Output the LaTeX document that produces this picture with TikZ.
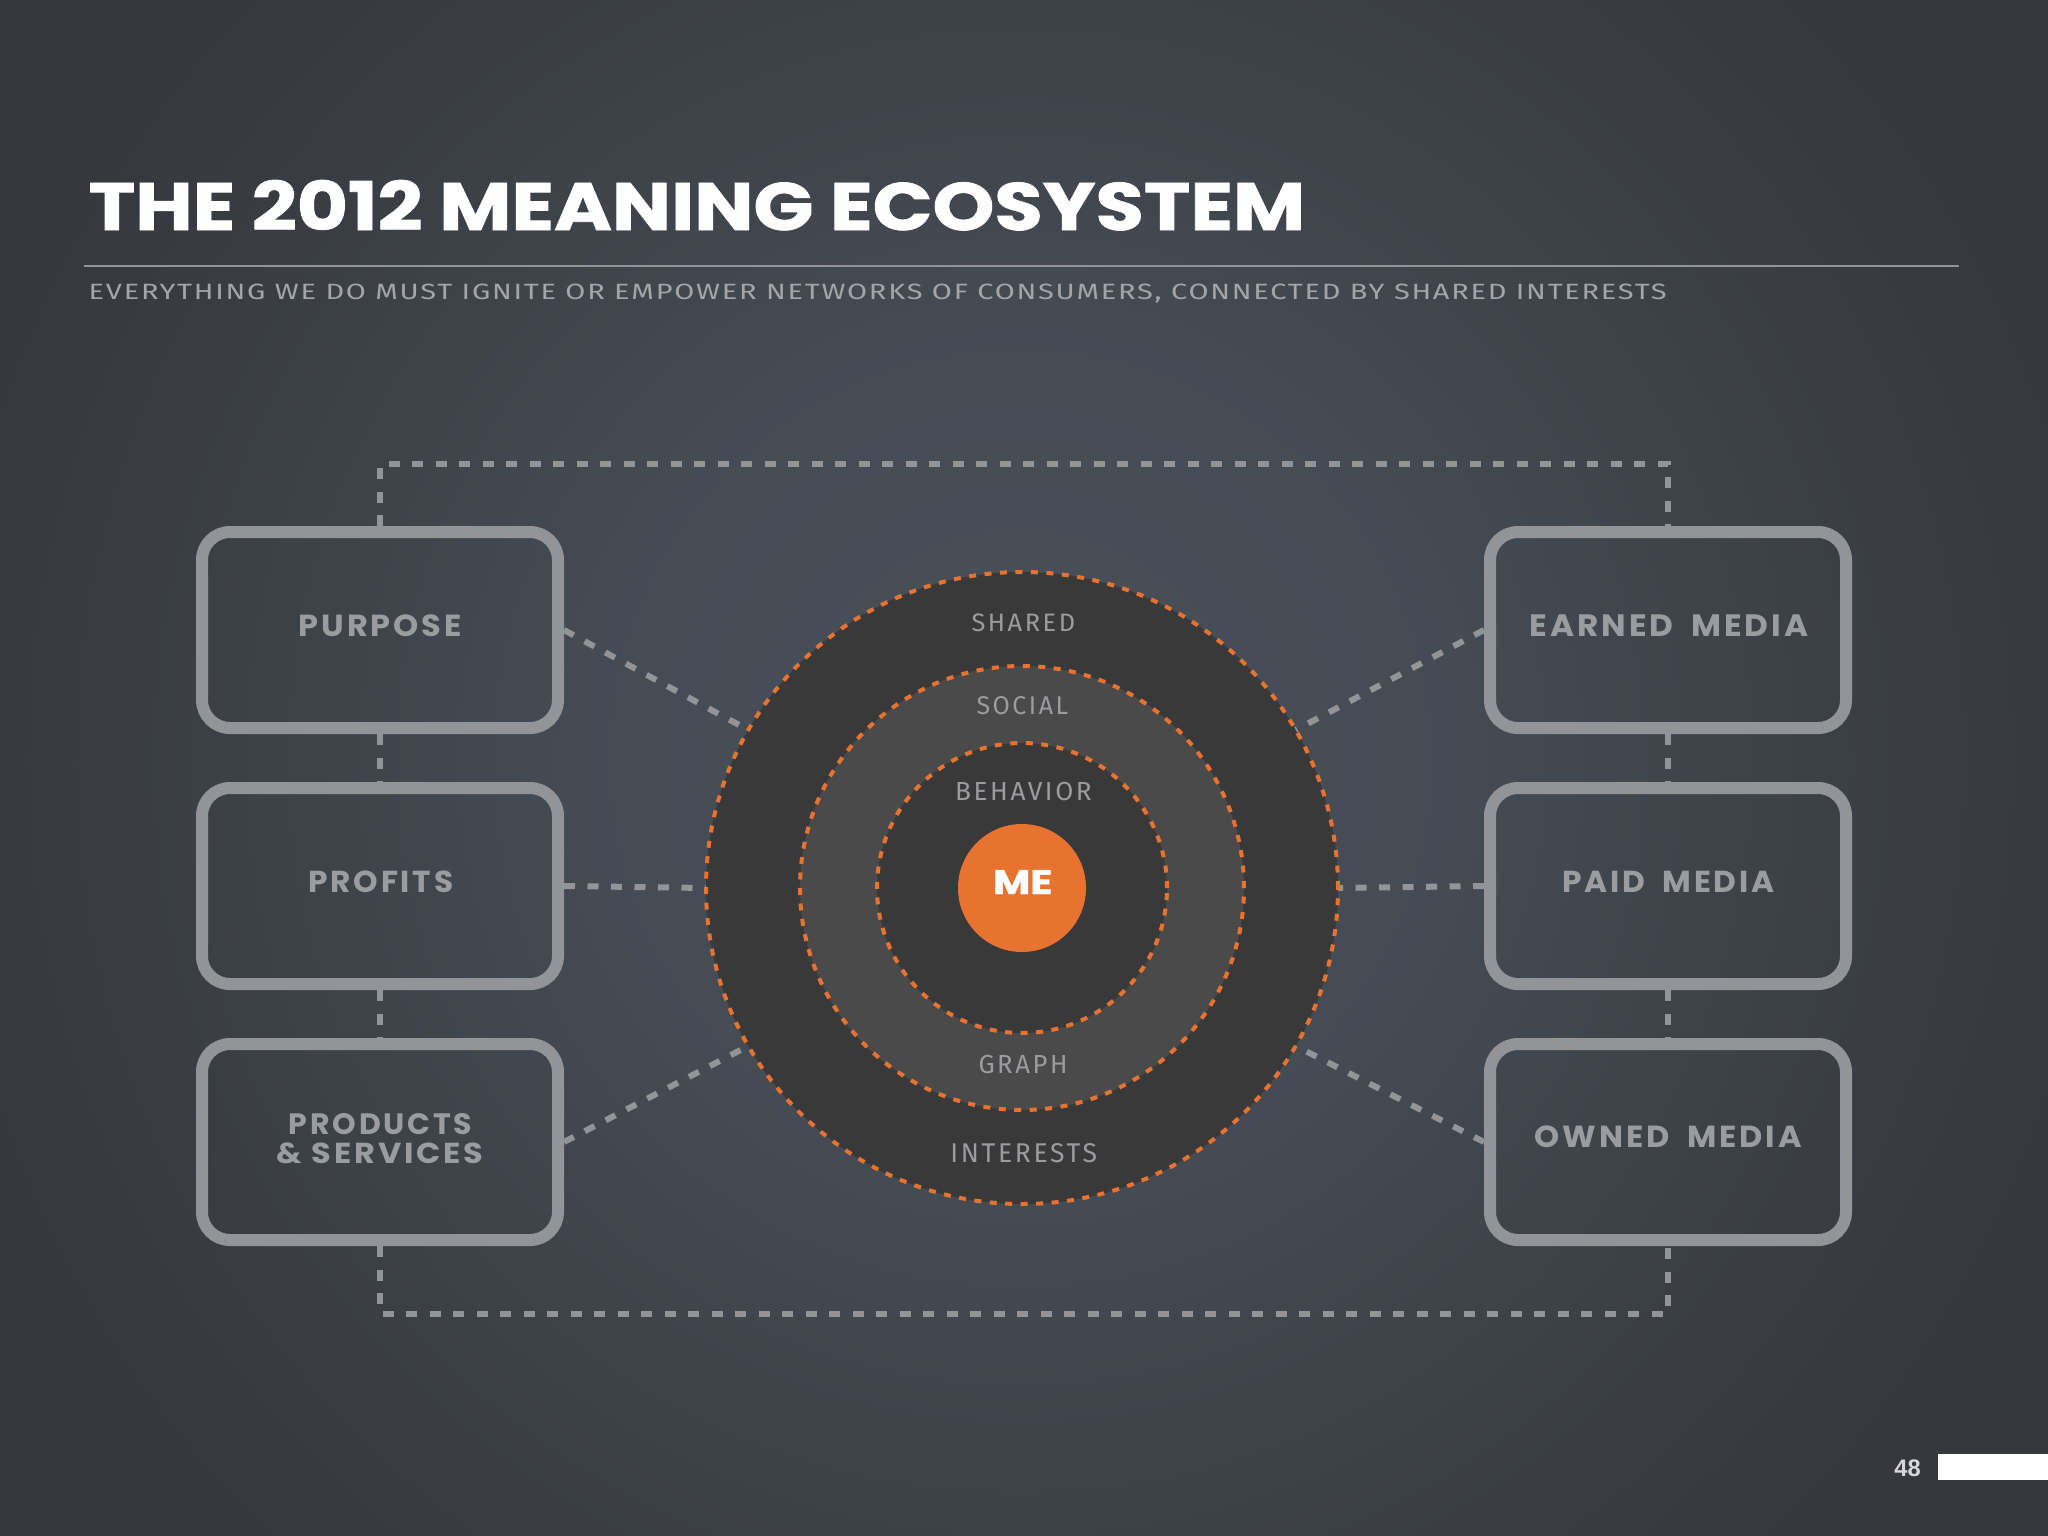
\documentclass[tikz,border=0pt]{standalone}
\usepackage{fontspec}
\usepackage{graphicx}
\usetikzlibrary{calc}
\newfontfamily\titlefont{Poppins}[FakeBold=1.2]
\newfontfamily\boxfont{Poppins}[LetterSpace=9]
\newfontfamily\condfont{Fira Sans}[LetterSpace=10]
\newfontfamily\subfont{Fira Sans}[LetterSpace=6]
\newfontfamily\numfont{Liberation Sans}
\definecolor{bgD}{HTML}{35383D}
\definecolor{bgL}{HTML}{495059}
\definecolor{ringD}{HTML}{3A393A}
\definecolor{ringM}{HTML}{4B4A4B}
\definecolor{orng}{HTML}{E87330}
\definecolor{boxgray}{HTML}{929497}
\definecolor{txtgray}{HTML}{9A9C9F}
\definecolor{subgray}{HTML}{A3A5A8}
\definecolor{numgray}{HTML}{D8D8DC}
\pgfdeclareradialshading{bgglow}{\pgfpoint{0bp}{0bp}}{color(0bp)=(bgL); color(10bp)=(bgL!80!bgD); color(18bp)=(bgL!35!bgD); color(25bp)=(bgD); color(50bp)=(bgD)}
\newcommand{\fitbox}[3]{\resizebox{#1pt}{#2pt}{#3}}
\begin{document}
\begin{tikzpicture}[x=1pt,y=-1pt,
  odash/.style={draw=orng, line width=4pt, dash pattern=on 7pt off 8.5pt},
  gdash/.style={draw=boxgray, line width=6pt, dash pattern=on 11pt off 12.5pt},
  mbox/.style={draw=boxgray, line width=12pt, rounded corners=28pt, minimum width=356pt, minimum height=196pt, inner sep=0pt, outer sep=6pt},
  ring/.style={circle, inner sep=0pt, outer sep=0pt},
  lbl/.style={inner sep=0pt, outer sep=0pt, anchor=base},
  boxlbl/.style={lbl, text=txtgray, font=\boxfont\bfseries\fontsize{30}{30}\selectfont},
  cirlbl/.style={lbl, text=txtgray, font=\condfont\fontsize{24}{24}\selectfont}]
\useasboundingbox (0,0) rectangle (2048,1536);
\fill[bgD] (0,0) rectangle (2048,1536);
\begin{scope}
  \clip (0,0) rectangle (2048,1536);
  \shade[shading=bgglow] (1020,760) circle (1100pt);
\end{scope}

% title and subtitle
\node[lbl, anchor=base west, text=white, font=\titlefont\bfseries\fontsize{70}{70}\selectfont] (title) at (88.7,230) {\fitbox{1216.3}{50}{THE 2012 MEANING ECOSYSTEM}};
\draw[boxgray, line width=2pt] (83.6,265.7) -- (1959,265.7);
\node[lbl, anchor=base west, text=subgray, font=\subfont\fontsize{22}{22}\selectfont] (subtitle) at (88.7,299) {\fitbox{1578}{15.5}{EVERYTHING WE DO MUST IGNITE OR EMPOWER NETWORKS OF CONSUMERS, CONNECTED BY SHARED INTERESTS}};

% boxes
\node[mbox] (pur) at (380,630) {};
\node[mbox] (pro) at (380,886) {};
\node[mbox] (prs) at (380,1142) {};
\node[mbox] (ear) at (1668,630) {};
\node[mbox] (pai) at (1668,886) {};
\node[mbox] (own) at (1668,1142) {};

% circle (placed first for anchors)
\coordinate (cc) at (1022,888);
\path (cc) node[ring, minimum size=632pt] (c1) {};

% frame and connectors
\coordinate (ftop) at (1022,464);
\coordinate (fbot) at (1022,1313.7);
\draw[gdash] (pur.north) |- (ftop) -| (ear.north);
\draw[gdash] (prs.south) |- (fbot) -| (own.south);
\draw[gdash] (pur.south) -- (pro.north);
\draw[gdash] (pro.south) -- (prs.north);
\draw[gdash] (ear.south) -- (pai.north);
\draw[gdash] (pai.south) -- (own.north);
\draw[gdash] (pur.east) -- (c1.150);
\draw[gdash] (pro.east) -- (c1.west);
\draw[gdash] (prs.east) -- (c1.210);
\draw[gdash] (ear.west) -- (c1.30);
\draw[gdash] (pai.west) -- (c1.east);
\draw[gdash] (own.west) -- (c1.330);

% concentric rings
\node[ring, minimum size=632pt, fill=ringD, odash] (outer) at (cc) {};
\node[ring, minimum size=444pt, fill=ringM, odash] (middle) at (cc) {};
\node[ring, minimum size=290pt, fill=ringD, odash] (inner) at (cc) {};
\node[ring, minimum size=128pt, fill=orng] (me) at (cc) {};

% ring labels
\node[cirlbl] (shared) at (1023.3,631) {\fitbox{103.6}{17.7}{SHARED}};
\node[cirlbl] (social) at (1022.3,714) {\fitbox{91.6}{18}{SOCIAL}};
\node[cirlbl] (behavior) at (1023.4,800) {\fitbox{136.8}{18.3}{BEHAVIOR}};
\node[lbl, text=white, font=\titlefont\bfseries\fontsize{34}{34}\selectfont] (metxt) at (1022.7,894) {\fitbox{59.3}{24}{ME}};
\node[cirlbl] (graph) at (1023,1073.3) {\fitbox{89}{18.3}{GRAPH}};
\node[cirlbl] (interests) at (1023.7,1162.3) {\fitbox{146.7}{19}{INTERESTS}};

% box labels
\node[boxlbl] (tpur) at (380.3,636) {\fitbox{163}{21.7}{PURPOSE}};
\node[boxlbl] (tpro) at (380.8,892.3) {\fitbox{145}{21.6}{PROFITS}};
\node[boxlbl] (tprs1) at (380.5,1134) {\fitbox{183}{21}{PRODUCTS}};
\node[boxlbl] (tprs2) at (380,1163.3) {\fitbox{207}{20.7}{\&\ SERVICES}};
\node[boxlbl] (tear) at (1669,636) {\fitbox{278.6}{21.7}{EARNED\ \hspace{0.25em}MEDIA}};
\node[boxlbl] (tpai) at (1668.5,892) {\fitbox{212}{21.3}{PAID\ \hspace{0.25em}MEDIA}};
\node[boxlbl] (town) at (1668.3,1147.7) {\fitbox{266.7}{21.7}{OWNED\ \hspace{0.25em}MEDIA}};

% page number
\node[lbl, text=numgray, font=\numfont\bfseries\fontsize{24}{24}\selectfont] (pg) at (1907.5,1476) {\fitbox{26.3}{16.7}{48}};
\fill[white] (1938,1453.7) rectangle (2048,1480);
\end{tikzpicture}
\end{document}
